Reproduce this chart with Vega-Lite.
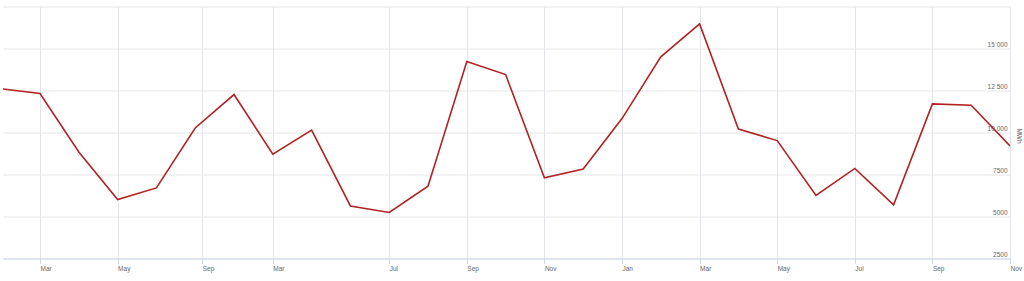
{
  "$schema": "https://vega.github.io/schema/vega-lite/v6.json",
  "width": 1007,
  "height": 252,
  "autosize": {"type": "none"},
  "padding": {"left": 3, "top": 6.5, "right": 14, "bottom": 22.5},
  "background": "#ffffff",
  "config": {
    "view": {"stroke": null},
    "font": "Liberation Sans"
  },
  "data": {
    "values": [
      {"i": 0, "mwh": 12600},
      {"i": 1, "mwh": 12320},
      {"i": 2, "mwh": 8845},
      {"i": 3, "mwh": 6010},
      {"i": 4, "mwh": 6700},
      {"i": 5, "mwh": 10270},
      {"i": 6, "mwh": 12260},
      {"i": 7, "mwh": 8710},
      {"i": 8, "mwh": 10140},
      {"i": 9, "mwh": 5630},
      {"i": 10, "mwh": 5240},
      {"i": 11, "mwh": 6800},
      {"i": 12, "mwh": 14230},
      {"i": 13, "mwh": 13450},
      {"i": 14, "mwh": 7300},
      {"i": 15, "mwh": 7830},
      {"i": 16, "mwh": 10830},
      {"i": 17, "mwh": 14500},
      {"i": 18, "mwh": 16460},
      {"i": 19, "mwh": 10200},
      {"i": 20, "mwh": 9520},
      {"i": 21, "mwh": 6250},
      {"i": 22, "mwh": 7860},
      {"i": 23, "mwh": 5690},
      {"i": 24, "mwh": 11700},
      {"i": 25, "mwh": 11625},
      {"i": 26, "mwh": 9200}
    ]
  },
  "mark": {"type": "line", "color": "#b22222", "strokeWidth": 1.6, "clip": true},
  "encoding": {
    "x": {
      "field": "i",
      "type": "quantitative",
      "scale": {"domain": [0.046, 26], "nice": false, "zero": false},
      "axis": {
        "title": null,
        "values": [1, 3, 5.18, 7, 10, 12, 14, 16, 18, 20, 22, 24, 26],
        "labelExpr": "['Mar','May','Sep','Mar','Jul','Sep','Nov','Jan','Mar','May','Jul','Sep','Nov'][indexof([1,3,5.18,7,10,12,14,16,18,20,22,24,26], datum.value)]",
        "grid": true,
        "gridColor": "#e2e5ea",
        "gridWidth": 1,
        "domain": true,
        "domainColor": "#ccd6eb",
        "ticks": true,
        "tickColor": "#ccd6eb",
        "tickSize": 5,
        "labelAlign": "left",
        "labelBaseline": "alphabetic",
        "labelPadding": 6.5,
        "labelFontSize": 6.5,
        "labelColor": "#666666",
        "labelFlush": false,
        "labelBound": false,
        "labelOverlap": false
      }
    },
    "y": {
      "field": "mwh",
      "type": "quantitative",
      "scale": {"domain": [2500, 17500], "nice": false, "zero": false},
      "axis": {
        "orient": "right",
        "title": "MWh",
        "titleAngle": 90,
        "titleX": 8,
        "titleY": 129,
        "titleAlign": "center",
        "titleBaseline": "middle",
        "titleFontSize": 6.5,
        "titleFontWeight": "normal",
        "titleColor": "#666666",
        "values": [2500, 5000, 7500, 10000, 12500, 15000, 17500],
        "labelExpr": "datum.value >= 17500 ? '' : (datum.value >= 10000 ? replace(format(datum.value, ','), ',', ' ') : format(datum.value, 'd'))",
        "grid": true,
        "gridColor": "#e6e6e6",
        "domain": false,
        "ticks": false,
        "labelAlign": "right",
        "labelBaseline": "alphabetic",
        "labelPadding": -3,
        "labelOffset": -2,
        "labelFontSize": 6.5,
        "labelColor": "#666666",
        "labelFlush": false,
        "labelBound": false,
        "labelOverlap": false
      }
    }
  }
}
